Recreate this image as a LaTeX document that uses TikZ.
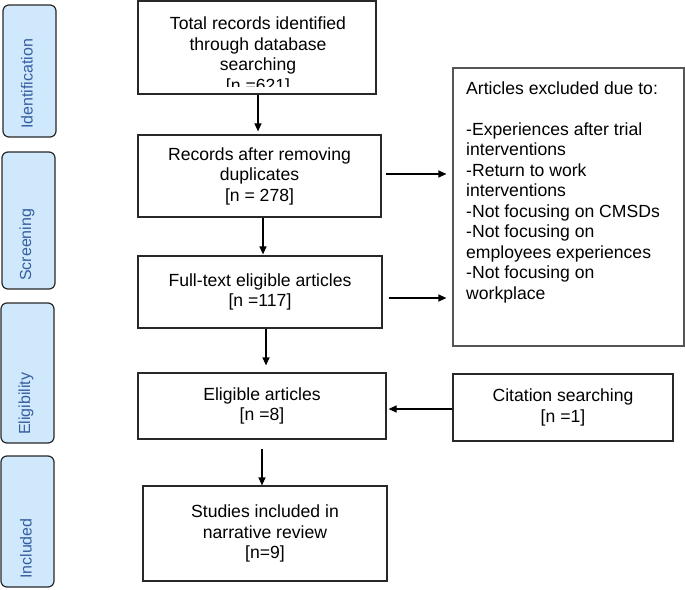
\documentclass[tikz,border=0pt]{standalone}
\usepackage{fontspec}
\setmainfont{Liberation Sans}
\usetikzlibrary{arrows.meta,calc}
\definecolor{sidefill}{RGB}{207,232,252}
\definecolor{sidetext}{RGB}{55,95,160}
\definecolor{edgecol}{RGB}{40,40,40}
\newcommand\mfs{\fontsize{17.6}{20.5}\selectfont}
\newcommand\sfsz{\fontsize{16}{19}\selectfont}
\begin{document}
\begin{tikzpicture}[x=1pt,y=-1pt,
  box/.style={draw=edgecol, line width=1.2pt, rectangle, inner sep=0pt, align=center, font=\mfs},
  sidebox/.style={draw=edgecol, line width=1.2pt, rectangle, rounded corners=6pt, fill=sidefill, inner sep=0pt},
  sidelabel/.style={rotate=90, anchor=west, inner sep=0pt, text=sidetext, font=\sfsz},
  plain/.style={inner sep=0pt, align=center, font=\mfs},
  arr/.style={line width=1.2pt, -{Triangle[length=8pt,width=7pt]}}]
\useasboundingbox (0,0) rectangle (685,589);
% side panels
\node[sidebox, minimum width=53, minimum height=132] (sid) at (29.5,71) {};
\node[sidelabel] (lid) at (27,129) {Identification};
\node[sidebox, minimum width=53, minimum height=137] (sscr) at (28.5,220.5) {};
\node[sidelabel] (lscr) at (27,281) {Screening};
\node[sidebox, minimum width=53, minimum height=140] (seli) at (27.5,373) {};
\node[sidelabel] (leli) at (26,435) {Eligibility};
\node[sidebox, minimum width=53, minimum height=131] (sinc) at (27.5,521.5) {};
\node[sidelabel] (linc) at (26,579) {Included};
% main boxes
\node[box, minimum width=238, minimum height=93] (b1) at (257,47.5) {};
\begin{scope}
\clip (138,1) rectangle (376,86);
\node[plain] (t1) at (258,56) {Total records identified\\through database\\searching\\{}[n =621]};
\end{scope}
\node[box, minimum width=243, minimum height=82] (b2) at (259.5,176) {Records after removing\\duplicates\\{}[n = 278]};
\node[box, minimum width=244, minimum height=72] (b3) at (260,292) {Full-text eligible articles\\{}[n =117]};
\node[box, minimum width=248, minimum height=66] (b4) at (262,406) {Eligible articles\\{}[n =8]};
\node[box, minimum width=244, minimum height=95] (b5) at (265,533.5) {Studies included in\\narrative review\\{}[n=9]};
\node[box, minimum width=220, minimum height=67] (cite) at (563,407.5) {Citation searching\\{}[n =1]};
\node[box, draw={rgb,255:red,85;green,85;blue,85}, minimum width=231, minimum height=278] (excl) at (568.5,207) {};
\node[plain, align=left, anchor=north west] (tex) at (466,82) {Articles excluded due to:\\[20pt]-Experiences after trial\\interventions\\-Return to work\\interventions\\-Not focusing on CMSDs\\-Not focusing on\\employees experiences\\-Not focusing on\\workplace};
% connectors
\draw[arr, shorten >=3pt] ([xshift=1pt]b1.south) -- ([xshift=1pt]b1.south |- b2.north);
\draw[arr, shorten >=1pt] ([xshift=3.5pt]b2.south) -- ([xshift=3.5pt]b2.south |- b3.north);
\draw[arr, shorten >=7pt] ([xshift=6pt]b3.south) -- ([xshift=6pt]b3.south |- b4.north);
\draw[arr, shorten <=9pt] (b4.south) -- (b4.south |- b5.north);
\draw[arr, shorten <=4pt, shorten >=6pt] ([yshift=2pt]b2.east) -- ([yshift=2pt]b2.east -| excl.west);
\draw[arr, shorten <=6pt, shorten >=6pt] ([yshift=-6pt]b3.east) -- ([yshift=-6pt]b3.east -| excl.west);
\draw[arr, shorten >=2pt] ([yshift=-1.5pt]cite.west) -- ([yshift=-1.5pt]cite.west -| b4.east);
\end{tikzpicture}
\end{document}
